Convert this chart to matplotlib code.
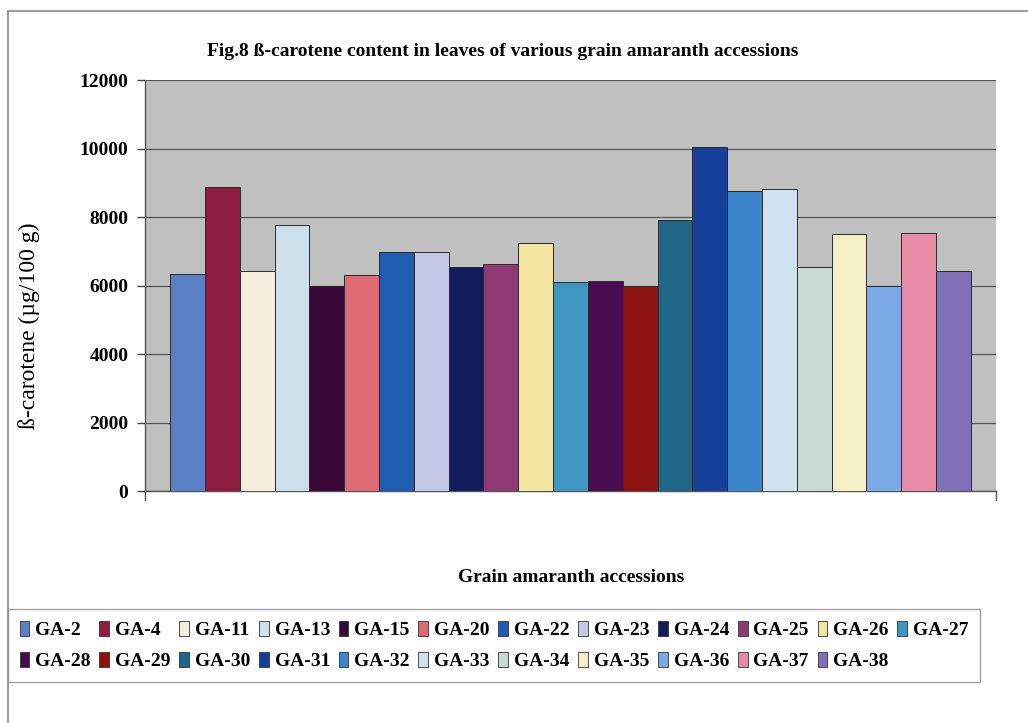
import matplotlib
matplotlib.use("Agg")
import matplotlib.pyplot as plt
from matplotlib.patches import Rectangle
from matplotlib.lines import Line2D

# Accessions and measured beta-carotene content (µg/100 g)
accessions = ["GA-2", "GA-4", "GA-11", "GA-13", "GA-15", "GA-20", "GA-22", "GA-23",
              "GA-24", "GA-25", "GA-26", "GA-27", "GA-28", "GA-29", "GA-30", "GA-31",
              "GA-32", "GA-33", "GA-34", "GA-35", "GA-36", "GA-37", "GA-38"]
carotene = [6330, 8880, 6430, 7760, 6000, 6320, 6980, 6980,
            6550, 6620, 7250, 6110, 6140, 6000, 7910, 10030,
            8770, 8810, 6550, 7500, 6000, 7520, 6430]
bar_colors = ["#5b80c8", "#8e1e40", "#f4efdc", "#cde0eb", "#3a0838", "#de6a74",
              "#1f5db2", "#c4c8e6", "#141d5c", "#8f3a74", "#f2e6a2", "#4096c2",
              "#4a0c50", "#8c1210", "#1f6689", "#153f98", "#3b85cc", "#d0e2ef",
              "#c8dad1", "#f6f0c8", "#7aa9e6", "#e88ba8", "#8070b8"]
y_ticks = [0, 2000, 4000, 6000, 8000, 10000, 12000]

serif = ["Liberation Serif", "DejaVu Serif"]
plt.rcParams["font.family"] = serif

W, H = 1028, 723
fig = plt.figure(figsize=(W / 100, H / 100), dpi=100)
fig.patch.set_facecolor("white")

def fx(px):
    return px / W

def fy(py):
    return 1 - py / H

# Outer chart frame (top and left edges)
fig.add_artist(Line2D([fx(8), fx(1028)], [fy(11), fy(11)], color="#8a8a8a", lw=1.2))
fig.add_artist(Line2D([fx(8), fx(8)], [fy(11), fy(723)], color="#8a8a8a", lw=1.2))

ax = fig.add_axes([fx(145), fy(491), fx(996) - fx(145), fy(80) - fy(491)])
ax.set_facecolor("#c0c0c0")

x = list(range(len(accessions)))
ax.bar(x, carotene, width=1.0, color=bar_colors, edgecolor="#2a2a2a",
       linewidth=0.7, zorder=3)

ax.set_xlim(-1.22, len(accessions) - 1 + 1.22)
ax.set_ylim(0, 12000)
ax.set_yticks(y_ticks)
ax.set_yticklabels([str(t) for t in y_ticks], fontsize=14, fontweight="bold")
ax.yaxis.grid(True, color="#555555", linewidth=0.9, zorder=1)
ax.set_axisbelow(True)
ax.set_xticks([])
ax.tick_params(axis="y", direction="out", length=6, width=1, color="#444444", pad=6)

for side in ["top", "right"]:
    ax.spines[side].set_visible(False)
ax.spines["left"].set_color("#555555")
ax.spines["bottom"].set_color("#555555")
ax.spines["left"].set_linewidth(1.0)
ax.spines["bottom"].set_linewidth(1.0)

# Category-boundary ticks below the x axis
for xb in ax.get_xlim():
    ax.plot([xb, xb], [0, -260], color="#555555", lw=1.0, clip_on=False)

fig.text(fx(503), fy(52), "Fig.8 ß-carotene content in leaves of various grain amaranth accessions",
         ha="center", va="center", fontsize=14, fontweight="bold")
fig.text(fx(29), fy(326), "ß-carotene (µg/100 g)", rotation=90, ha="center", va="center",
         fontsize=17)
fig.text(fx(571), fy(578), "Grain amaranth accessions", ha="center", va="center",
         fontsize=14, fontweight="bold")

# Legend filled row by row: reorder entries for matplotlib's column-major layout
ncol = 12
nrows = 2
order = []
for c in range(ncol):
    for r in range(nrows):
        k = r * ncol + c
        if k < len(accessions):
            order.append(k)

handles = [Rectangle((0, 0), 1, 1, facecolor=bar_colors[k], edgecolor="#333333",
                     linewidth=0.6) for k in order]
labels = [accessions[k] for k in order]
leg = fig.legend(handles, labels, loc="upper left",
                 bbox_to_anchor=(fx(8), fy(609)), ncol=ncol, frameon=True,
                 fancybox=False, edgecolor="#8a8a8a",
                 prop={"family": serif, "weight": "bold", "size": 14},
                 handlelength=0.5, handleheight=0.85, handletextpad=0.3,
                 columnspacing=0.45, borderpad=0.6, labelspacing=0.66,
                 borderaxespad=0)
leg.get_frame().set_linewidth(1.0)

fig.savefig("out.png", dpi=100, facecolor="white")
